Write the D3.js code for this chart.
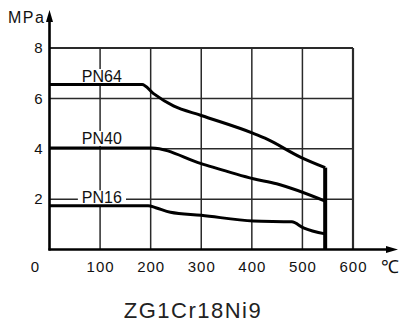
<!DOCTYPE html>
<html>
<head>
<meta charset="utf-8">
<script src="https://cdn.jsdelivr.net/npm/d3@7"></script>
<style>
  body { margin: 0; background: #fff; }
  svg { display: block; font-family: "Liberation Sans", Arial, sans-serif; }
</style>
</head>
<body>
<div id="chart"></div>
<script>
// data (temperature in °C, pressure in MPa)
var temps64 = [0, 183, 205, 245, 300, 403, 426, 498, 545];
var pn64 = [6.55, 6.55, 6.2, 5.7, 5.32, 4.61, 4.42, 3.65, 3.25];
var temps40 = [0, 202, 300, 403, 449, 545];
var pn40 = [4.03, 4.03, 3.41, 2.81, 2.61, 1.92];
var temps16 = [0, 195, 210, 239, 300, 403, 479, 502, 545];
var pn16 = [1.74, 1.74, 1.66, 1.48, 1.36, 1.13, 1.1, 0.86, 0.62];
var dropTemps = [545, 545];
var dropValues = [3.25, 0];

var xTicks = [100, 200, 300, 400, 500, 600];
var yTicks = [2, 4, 6, 8];
var seriesNames = ["PN64", "PN40", "PN16"];
var labelTemps = [64, 64, 64];
var labelValues = [6.65, 4.19, 1.83];
var title = "ZG1Cr18Ni9";

var width = 399, height = 322;

var svg = d3.select("#chart")
    .append("svg")
    .attr("width", width)
    .attr("height", height);

var x = d3.scaleLinear().domain([0, 600]).range([49.5, 353]);
var y = d3.scaleLinear().domain([0, 8]).range([249.5, 48]);

// grid
var grid = svg.append("g").attr("stroke", "#2a2a2a");
grid.selectAll("line.v")
    .data(xTicks)
    .enter()
    .append("line")
    .attr("class", "v")
    .attr("x1", d => x(d))
    .attr("x2", d => x(d))
    .attr("y1", y(0))
    .attr("y2", y(8))
    .attr("stroke-width", d => d == 600 ? 2.2 : 1.5);
grid.selectAll("line.h")
    .data(yTicks)
    .enter()
    .append("line")
    .attr("class", "h")
    .attr("x1", x(0))
    .attr("x2", x(600))
    .attr("y1", d => y(d))
    .attr("y2", d => y(d))
    .attr("stroke-width", d => d == 8 ? 2.2 : 1.5);

// series labels with white boxes that cut the grid
var labels = svg.append("g");
seriesNames.forEach(function (name, i) {
    var g = labels.append("g");
    var rect = g.append("rect").attr("fill", "#fff");
    var t = g.append("text")
        .attr("x", x(labelTemps[i]))
        .attr("y", y(labelValues[i]))
        .attr("font-size", 16)
        .attr("fill", "#111")
        .text(name);
    var b = t.node().getBBox();
    rect.attr("x", b.x - 4).attr("y", b.y + 1)
        .attr("width", b.width + 8).attr("height", b.height - 2);
});

// curves
var line = d3.line()
    .x(d => x(d[0]))
    .y(d => y(d[1]))
    .curve(d3.curveMonotoneX);

function pairs(t, v) {
    return t.map(function (d, i) { return [d, v[i]]; });
}

[[temps64, pn64], [temps40, pn40], [temps16, pn16]].forEach(function (s) {
    svg.append("path")
        .datum(pairs(s[0], s[1]))
        .attr("d", line)
        .attr("fill", "none")
        .attr("stroke", "#000")
        .attr("stroke-width", 3)
        .attr("stroke-linejoin", "round");
});

svg.append("path")
    .datum(pairs(dropTemps, dropValues))
    .attr("d", d3.line().x(d => x(d[0])).y(d => y(d[1])))
    .attr("fill", "none")
    .attr("stroke", "#000")
    .attr("stroke-width", 4);

// axes lines + arrows
svg.append("line")
    .attr("x1", x(0)).attr("x2", x(0))
    .attr("y1", y(0) + 1).attr("y2", 16)
    .attr("stroke", "#000").attr("stroke-width", 2.6);
svg.append("line")
    .attr("x1", x(0) - 1).attr("x2", 390)
    .attr("y1", y(0)).attr("y2", y(0))
    .attr("stroke", "#000").attr("stroke-width", 2.6);
svg.append("path")
    .attr("d", "M" + x(0) + ",10 L" + (x(0) - 3.5) + ",22 L" + (x(0) + 3.5) + ",22 Z")
    .attr("fill", "#000");
svg.append("path")
    .attr("d", "M398," + y(0) + " L386," + (y(0) - 3.5) + " L386," + (y(0) + 3.5) + " Z")
    .attr("fill", "#000");

// tick labels
var xAxis = d3.axisBottom(x).tickValues(xTicks).tickSize(0).tickPadding(12);
var gx = svg.append("g").attr("transform", "translate(0," + y(0) + ")").call(xAxis);
gx.select(".domain").remove();
gx.selectAll("text").attr("font-size", 15).attr("fill", "#111")
    .attr("font-family", "Liberation Sans, Arial, sans-serif")
    .attr("letter-spacing", 1);

var yAxis = d3.axisLeft(y).tickValues(yTicks).tickSize(0).tickPadding(7);
var gy = svg.append("g").attr("transform", "translate(" + x(0) + ",0)").call(yAxis);
gy.select(".domain").remove();
gy.selectAll("text").attr("font-size", 15).attr("fill", "#111")
    .attr("font-family", "Liberation Sans, Arial, sans-serif");

svg.append("text")
    .attr("x", 35).attr("y", 272)
    .attr("text-anchor", "middle")
    .attr("font-size", 15).attr("fill", "#111")
    .text("0");

svg.append("text")
    .attr("x", 381).attr("y", 273)
    .attr("font-size", 18).attr("fill", "#111")
    .text("℃");

svg.append("text")
    .attr("x", 8).attr("y", 23)
    .attr("font-size", 16).attr("fill", "#111")
    .attr("letter-spacing", 1.5)
    .text("MPa");

svg.append("text")
    .attr("x", 193).attr("y", 318)
    .attr("text-anchor", "middle")
    .attr("font-size", 22).attr("fill", "#222")
    .attr("letter-spacing", 1.5)
    .text(title);
</script>
</body>
</html>
